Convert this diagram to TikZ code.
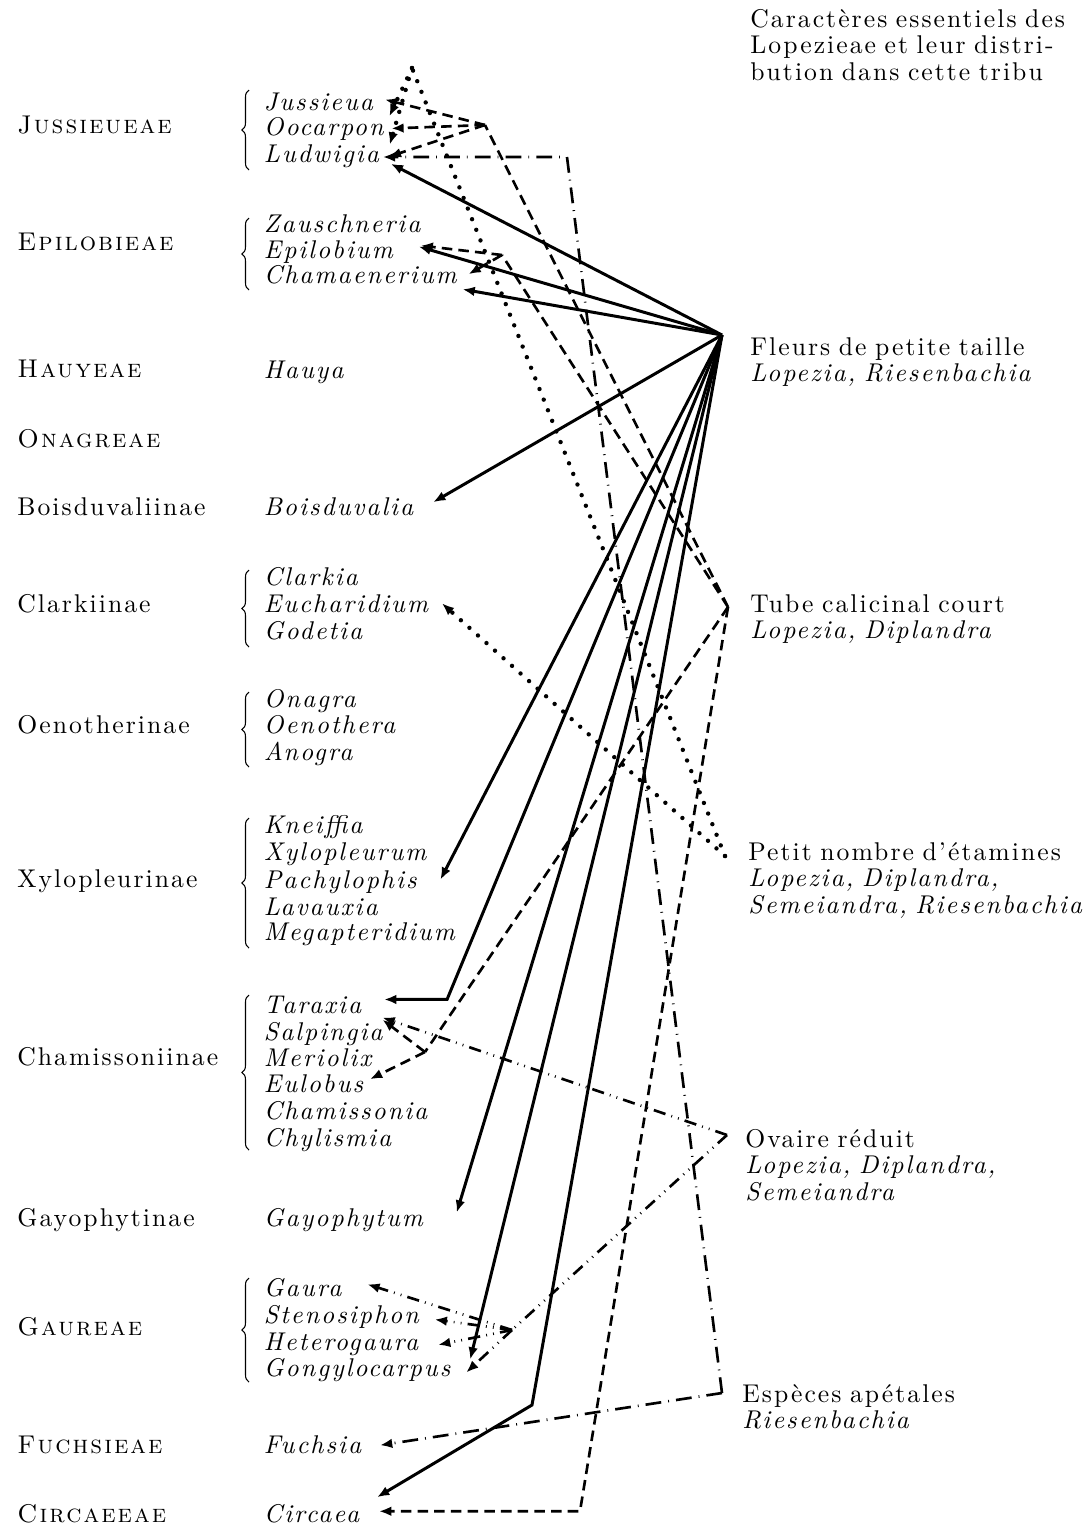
\documentclass[tikz,border=0pt]{standalone}
\usepackage{fontspec}
\setmainfont{lmroman10-regular.otf}[ItalicFont=lmroman10-italic.otf,SmallCapsFont=lmromancaps10-regular.otf,LetterSpace=8,WordSpace=1.4]
\usetikzlibrary{arrows.meta,decorations.pathreplacing}

\begin{document}
\begin{tikzpicture}[x=0.02cm,y=-0.02cm,>={Latex[length=7pt,width=5.5pt]}]
  \tikzset{tribe/.style={anchor=base west,inner sep=0pt,font=\fontsize{14.6}{15}\selectfont},
    genus/.style={anchor=base west,inner sep=2pt,font=\fontsize{14.6}{15}\selectfont\itshape},
    caract/.style={anchor=base west,inner sep=0pt,align=left,text width=6.9cm,font=\fontsize{14.6}{15.2}\selectfont},
    fleur/.style={line width=1.7pt},
    tube/.style={line width=1.5pt,dash pattern=on 6pt off 3.5pt},
    etam/.style={line width=2.5pt,line cap=round,dash pattern=on 0pt off 6.5pt},
    apet/.style={line width=1.5pt,dash pattern=on 9pt off 4pt on 0.5pt off 4pt},
    ovaire/.style={line width=1.5pt,dash pattern=on 7pt off 3.5pt on 0.5pt off 3.5pt on 0.5pt off 3.5pt}}
  \useasboundingbox (0,0) rectangle (1091,1529);

  \foreach \t/\y [count=\i] in {\textsc{Jussieueae}/133,\textsc{Epilobieae}/250,\textsc{Hauyeae}/377,
      \textsc{Onagreae}/447,Boisduvaliinae/515,Clarkiinae/612,Oenotherinae/733,Xylopleurinae/887,
      Chamissoniinae/1065,Gayophytinae/1226,\textsc{Gaureae}/1335,\textsc{Fuchsieae}/1453,\textsc{Circaeeae}/1522}
    \node[tribe] (tr\i) at (17,\y) {\t};

  \foreach \n/\g/\y in {jus/Jussieua/110,ooc/Oocarpon/135,lud/Ludwigia/162,zau/Zauschneria/232,
      epi/Epilobium/258,cham/Chamaenerium/283,hauy/Hauya/378,bois/Boisduvalia/515,clar/Clarkia/585,
      euch/Eucharidium/612,gode/Godetia/639,onag/Onagra/707,oeno/Oenothera/733,anog/Anogra/760,
      knei/Kneiffia/833,xylo/Xylopleurum/860,pach/Pachylophis/888,lava/Lavauxia/915,mega/Megapteridium/940,
      tara/Taraxia/1013,salp/Salpingia/1040,meri/Meriolix/1066,eulo/Eulobus/1092,chami/Chamissonia/1119,
      chyl/Chylismia/1146,gayo/Gayophytum/1226,gaur/Gaura/1296,sten/Stenosiphon/1323,hete/Heterogaura/1350,
      gong/Gongylocarpus/1376,fuch/Fuchsia/1453,circ/Circaea/1522}
    \node[genus] (\n) at (260,\y) {\g};

  \foreach \a/\b in {90/170,218/290,570/647,692/767,818/948,995/1150,1278/1382}
    \draw[line width=0.6pt,decorate,decoration={brace,amplitude=4pt}] (249,\b) -- (249,\a);

  \node[caract,text width=6.7cm] (titre) at (750,27) {\makebox[6.7cm][s]{Caractères essentiels des}\\
    \makebox[6.7cm][s]{Lopezieae et leur distri-}\\ \makebox[6.7cm][s]{bution dans cette tribu}};

  \coordinate (F) at (722,335);
  \node[caract] (lfleur) at (750,355) {Fleurs de petite taille\\\textit{Lopezia, Riesenbachia}};
  \coordinate (T) at (728,607);
  \node[caract] (ltube) at (750,612) {Tube calicinal court\\\textit{Lopezia, Diplandra}};
  \coordinate (P) at (725,856);
  \node[caract] (letam) at (748,860) {Petit nombre d'étamines\\\textit{Lopezia, Diplandra,}\\\textit{Semeiandra, Riesenbachia}};
  \coordinate (O) at (727,1135);
  \node[caract] (lovaire) at (745,1147) {Ovaire réduit\\\textit{Lopezia, Diplandra,}\\\textit{Semeiandra}};
  \coordinate (E) at (722,1393);
  \node[caract] (lapet) at (742,1402) {Espèces apétales\\\textit{Riesenbachia}};

  \coordinate (tb) at ([shift={(82,-5)}]tara.east);
  \coordinate (cb) at (532,1405);
  \draw[fleur,->] (F) -- ([shift={(8,8)}]lud.east);
  \draw[fleur,->] (F) -- ([shift={(22,-5)}]epi.east);
  \draw[fleur,->] (F) -- ([shift={(2,15)}]cham.east);
  \draw[fleur,->] (F) -- ([shift={(16,-4)}]bois.east);
  \draw[fleur,->] (F) -- ([shift={(20,-2)}]pach.east);
  \draw[fleur,->] (F) -- (tb) -- ([shift={(19,-5)}]tara.east);
  \draw[fleur,->] (F) -- ([shift={(30,-7)}]gayo.east);
  \draw[fleur,->] (F) -- ([shift={(16,-10)}]gong.east);
  \draw[fleur,->] (F) -- (cb) -- ([shift={(14,-16)}]circ.east);

  \coordinate (fj) at (485,125);
  \coordinate (fe) at (502,255);
  \coordinate (fc) at (425,1052);
  \coordinate (cx) at (580,1518);
  \coordinate (cd) at ([yshift=2*0.02cm]cx |- circ.east);
  \draw[tube] (T) -- (fj) (T) -- (fe) (T) -- (fc);
  \draw[tube,->] (fj) -- ([shift={(8,-2)}]jus.east);
  \draw[tube,->] (fj) -- ([shift={(4,0)}]ooc.east);
  \draw[tube,->] (fj) -- ([shift={(6,1)}]lud.east);
  \draw[tube,->] (fe) -- ([shift={(24,-6)}]epi.east);
  \draw[tube,->] (fe) -- ([shift={(8,0)}]cham.east);
  \draw[tube,->] (fc) -- ([shift={(-4,-14)}]salp.east);
  \draw[tube,->] (fc) -- ([shift={(3,-4)}]eulo.east);
  \draw[tube,->] (T) -- (cd) -- ([shift={(16,-2)}]circ.east);

  \coordinate (apex) at (412,68);
  \draw[etam] (P) -- (apex);
  \draw[etam,->] (apex) -- ([shift={(2,-12)}]ooc.east);
  \draw[etam,->] (apex) -- ([shift={(7,-11)}]lud.east);
  \draw[etam,->] (P) -- ([shift={(10,0)}]euch.east);

  \coordinate (ld) at (567,157);
  \draw[apet,->] (E) -- (ld) -- (ld -| lud.east);
  \draw[apet,->] (E) -- ([shift={(15,1)}]fuch.east);

  \coordinate (fg) at (512,1330);
  \draw[ovaire,->] (O) -- ([shift={(-4,-16)}]salp.east);
  \draw[ovaire] (O) -- (fg);
  \draw[ovaire,->] (fg) -- ([shift={(22,-3)}]gaur.east);
  \draw[ovaire,->] (fg) -- ([shift={(12,3)}]sten.east);
  \draw[ovaire,->] (fg) -- ([shift={(16,1)}]hete.east);
  \draw[ovaire,->] (fg) -- ([shift={(12,3)}]gong.east);
\end{tikzpicture}
\end{document}
